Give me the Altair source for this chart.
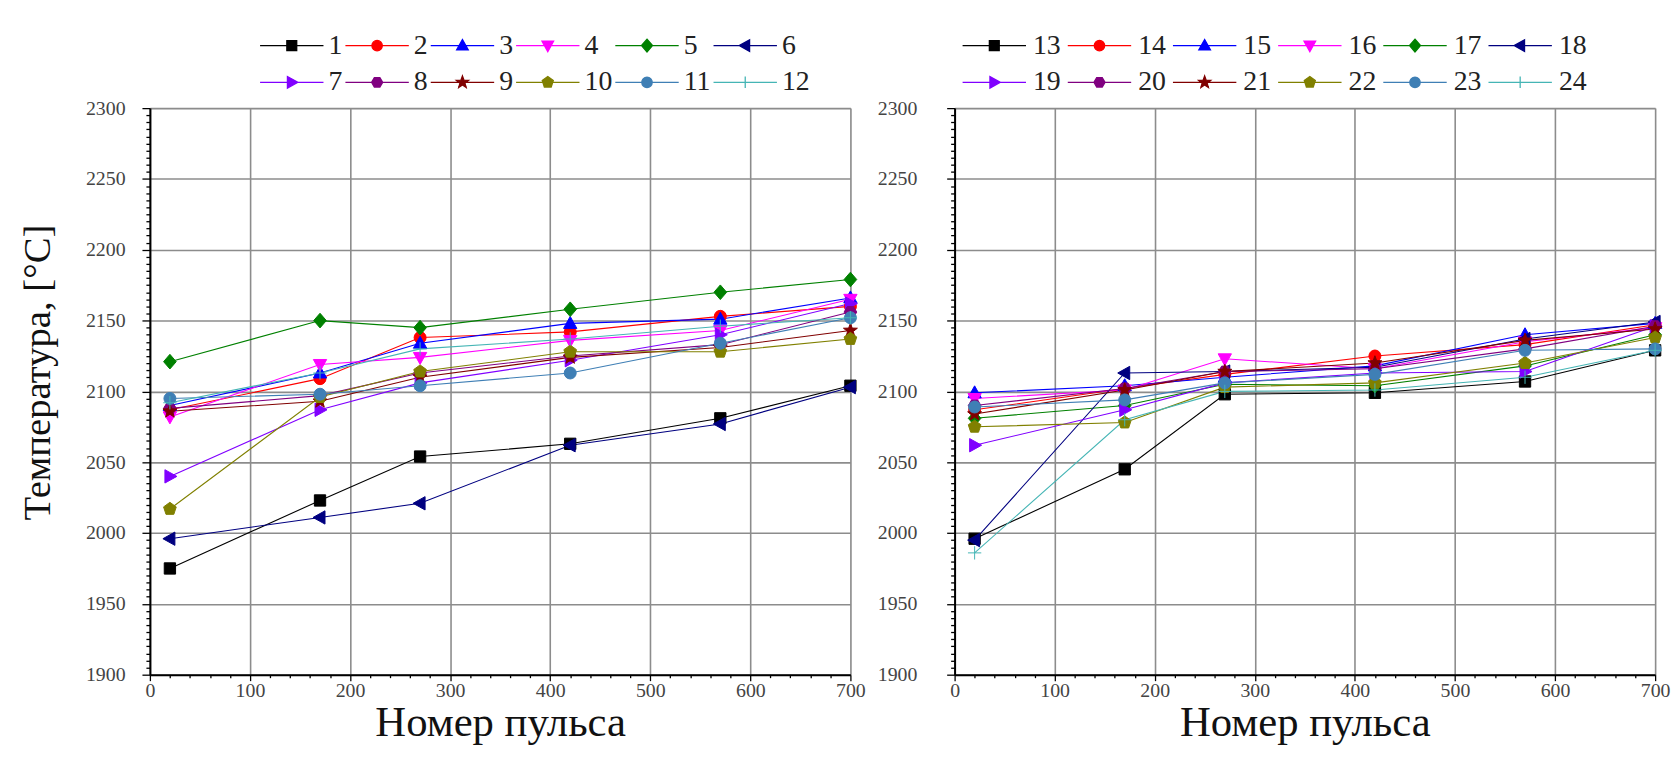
import math
import altair as alt
import pandas as pd

# ---------------- data ----------------
pulses = [20, 170, 270, 420, 570, 700]

left_names = ["1", "2", "3", "4", "5", "6", "7", "8", "9", "10", "11", "12"]
right_names = ["13", "14", "15", "16", "17", "18", "19", "20", "21", "22", "23", "24"]

s1 = [1975, 2023, 2054, 2063, 2081, 2104]
s2 = [2087, 2109, 2138, 2142, 2153, 2160]
s3 = [2090, 2113, 2134, 2148, 2151, 2166]
s4 = [2082, 2119, 2124, 2136, 2143, 2165]
s5 = [2121, 2150, 2145, 2158, 2170, 2179]
s6 = [1996, 2011, 2021, 2062, 2077, 2103]
s7 = [2040, 2087, 2106, 2122, 2140, 2162]
s8 = [2088, 2097, 2113, 2125, 2133, 2156]
s9 = [2086, 2093, 2110, 2124, 2131, 2143]
s10 = [2017, 2096, 2114, 2128, 2128, 2137]
s11 = [2095, 2098, 2104, 2113, 2134, 2152]
s12 = [2092, 2113, 2130, 2137, 2146, 2152]

s13 = [1996, 2045, 2098, 2099, 2107, 2129]
s14 = [2087, 2102, 2112, 2125, 2133, 2147]
s15 = [2099, 2104, 2110, 2118, 2140, 2148]
s16 = [2095, 2101, 2123, 2116, 2135, 2145]
s17 = [2081, 2090, 2105, 2104, 2118, 2140]
s18 = [1995, 2113, 2114, 2117, 2137, 2149]
s19 = [2062, 2087, 2106, 2113, 2114, 2146]
s20 = [2090, 2102, 2114, 2116, 2130, 2146]
s21 = [2084, 2101, 2114, 2120, 2136, 2144]
s22 = [2075, 2078, 2103, 2106, 2120, 2138]
s23 = [2089, 2094, 2106, 2112, 2129, 2130]
s24 = [1986, 2080, 2100, 2101, 2110, 2129]

left_values = [s1, s2, s3, s4, s5, s6, s7, s8, s9, s10, s11, s12]
right_values = [s13, s14, s15, s16, s17, s18, s19, s20, s21, s22, s23, s24]

colors = ["#000000", "#ff0000", "#0000ff", "#ff00ff", "#008000", "#000080",
          "#8000ff", "#800080", "#800000", "#808000", "#3f7fb5", "#45b5b5"]

x_title = "Номер пульса"
y_title = "Температура, [°C]"

# ---------------- marker shapes (styling) ----------------
def poly(pts, s):
    return "M" + "L".join(f"{x * s:.3f},{y * s:.3f}" for x, y in pts) + "Z"

def regular(n, r, start):
    return [(r * math.cos(math.radians(start + 360 / n * k)),
             r * math.sin(math.radians(start + 360 / n * k))) for k in range(n)]

def star_pts():
    pts = []
    for k in range(10):
        r = 1.1 if k % 2 == 0 else 0.45
        a = math.radians(-90 + 36 * k)
        pts.append((r * math.cos(a), r * math.sin(a)))
    return pts

def circle(s):
    r = 0.9 * s
    return f"M{r:.3f},0A{r:.3f},{r:.3f},0,1,1,{-r:.3f},0A{r:.3f},{r:.3f},0,1,1,{r:.3f},0Z"

def plus(s):
    return f"M{-s:.3f},0H{s:.3f}M0,{-s:.3f}V{s:.3f}"

shape_defs = [
    lambda s: poly([(-0.85, -0.85), (0.85, -0.85), (0.85, 0.85), (-0.85, 0.85)], s),
    circle,
    lambda s: poly([(0, -1.05), (1, 0.75), (-1, 0.75)], s),
    lambda s: poly([(0, 1.05), (1, -0.75), (-1, -0.75)], s),
    lambda s: poly([(0, -1.1), (0.95, 0), (0, 1.1), (-0.95, 0)], s),
    lambda s: poly([(-1.05, 0), (0.75, -1), (0.75, 1)], s),
    lambda s: poly([(1.05, 0), (-0.75, -1), (-0.75, 1)], s),
    lambda s: poly(regular(6, 0.95, 0), s),
    lambda s: poly(star_pts(), s),
    lambda s: poly(regular(5, 1.0, -90), s),
    circle,
    plus,
]
markers = [f(1.0) for f in shape_defs]
legend_markers = ["M-7.1,0H7.1" + f(1.3) for f in shape_defs]


def axis_common(label_pad):
    return dict(
        labelOverlap=False, labelFlush=False,
        labelFont="Liberation Sans Narrow", labelFontSize=20, labelColor="#444",
        labelPadding=label_pad,
        domainColor="black", domainWidth=2, tickColor="black", tickWidth=1.3,
        gridColor="#8c8c8c", gridWidth=1.6,
    )


def make_panel(names, values, show_title, label_pad, leg_x, leg_offset, leg_colpad):
    rows = []
    for n, vals in zip(names, values):
        for p, v in zip(pulses, vals):
            rows.append({"series": n, "pulse": p, "temp": v})
    df = pd.DataFrame(rows)

    xaxis = alt.Axis(
        values=list(range(0, 701, 20)),
        labelExpr="datum.value % 100 === 0 ? datum.label : ''",
        tickSize={"condition": {"test": "datum.value % 100 === 0", "value": 6}, "value": 3},
        gridOpacity={"condition": {"test": "datum.value % 100 === 0", "value": 1}, "value": 0},
        title=x_title, format="d",
        titleFont="Liberation Serif", titleFontSize=43, titleFontWeight="normal",
        titleColor="#111", titlePadding=1,
        **axis_common(0),
    )
    ykw = dict(
        values=list(range(1900, 2301, 5)),
        labelExpr="datum.value % 50 === 0 ? datum.label : ''",
        tickSize={"condition": {"test": "datum.value % 50 === 0", "value": 8}, "value": 4},
        gridOpacity={"condition": {"test": "datum.value % 50 === 0", "value": 1}, "value": 0},
        format="d",
        **axis_common(label_pad),
    )
    if show_title:
        yaxis = alt.Axis(title=y_title, titleFont="Liberation Serif", titleFontSize=39,
                         titleFontWeight="normal", titleColor="#111", titlePadding=28,
                         titleY=266, **ykw)
    else:
        yaxis = alt.Axis(title=None, **ykw)

    X = alt.X("pulse:Q", scale=alt.Scale(domain=[0, 700], nice=False), axis=xaxis)
    Y = alt.Y("temp:Q", scale=alt.Scale(domain=[1900, 2300], nice=False), axis=yaxis)

    col_scale = alt.Scale(domain=names, range=colors)
    base = alt.Chart(df)

    lines = base.mark_line(strokeWidth=1.1).encode(
        x=X, y=Y,
        stroke=alt.Stroke("series:N", scale=col_scale, legend=None),
    )
    pts = base.mark_point(filled=True, size=180, opacity=1, strokeWidth=1).encode(
        x=X, y=Y,
        fill=alt.Fill("series:N", scale=col_scale, legend=None),
        stroke=alt.Stroke("series:N", scale=col_scale, legend=None),
        shape=alt.Shape("series:N", scale=alt.Scale(domain=names, range=markers), legend=None),
    )
    leg = alt.Legend(
        orient="none", legendX=leg_x, legendY=-77, columns=6, direction="horizontal",
        gridAlign="none", title=None,
        symbolSize=81, symbolStrokeWidth=1.3, labelFont="Liberation Sans Narrow",
        labelFontSize=28, labelColor="#222", labelOffset=leg_offset,
        columnPadding=leg_colpad, rowPadding=9, symbolOpacity=1,
    )
    legend_layer = base.transform_filter("false").mark_point(filled=True, opacity=1, strokeWidth=1.3).encode(
        fill=alt.Fill("series:N", scale=col_scale, legend=leg),
        stroke=alt.Stroke("series:N", scale=col_scale, legend=leg),
        shape=alt.Shape("series:N", scale=alt.Scale(domain=names, range=legend_markers), legend=leg),
    )
    return alt.layer(lines, pts, legend_layer).resolve_scale(
        shape="independent", fill="independent", stroke="independent"
    ).properties(width=706, height=571)


left = make_panel(left_names, left_values, True, 17, 129, 23, 0)
right = make_panel(right_names, right_values, False, 30, 26, 25, 4)

chart = alt.hconcat(left, right, spacing=10).properties(
    padding={"left": 10, "top": 20, "right": 0, "bottom": 2}
).configure_view(stroke="black", strokeWidth=2).configure(background="white")

chart.save("out.html", embed_options={"renderer": "svg", "actions": False})
